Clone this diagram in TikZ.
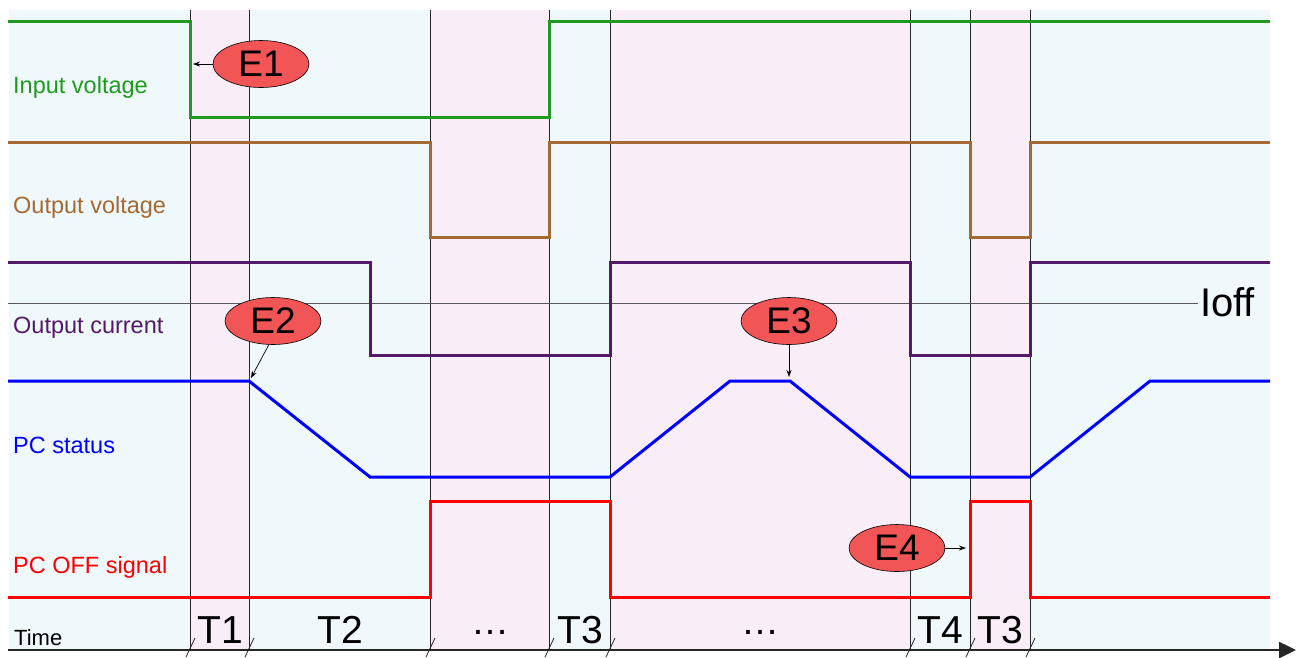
\documentclass[tikz,border=0pt]{standalone}
\usepackage{fontspec}
\setmainfont{Liberation Sans}
\usetikzlibrary{shapes.geometric,arrows.meta}
\definecolor{bgc}{RGB}{239,248,250}
\definecolor{bgp}{RGB}{249,237,247}
\definecolor{cgreen}{RGB}{30,155,30}
\definecolor{cbrown}{RGB}{165,105,50}
\definecolor{cpurple}{RGB}{85,25,105}
\definecolor{cblue}{RGB}{0,0,255}
\definecolor{cred}{RGB}{255,0,0}
\definecolor{evfill}{RGB}{242,85,85}
\begin{document}
\begin{tikzpicture}[x=1pt,y=-1pt,
  sig/.style={line width=3pt, line join=miter},
  vline/.style={line width=0.8pt, black!85},
  ev/.style={ellipse, draw=black, line width=0.6pt, fill=evfill, minimum width=96pt, minimum height=47pt, inner sep=0pt, font=\fontsize{37}{40}\selectfont},
  lbl/.style={anchor=base west, inner sep=0pt, font=\fontsize{23.5}{26}\selectfont},
  tlab/.style={anchor=base, font=\fontsize{39}{42}\selectfont},
  ptr/.style={-{Stealth[length=7pt,width=5pt]}, line width=0.7pt}]
\useasboundingbox (0,0) rectangle (1297,657);
% background
\fill[bgc] (9,10) rectangle (1270,650);
\foreach \a/\b in {190/249,430/549,610/910,970/1030}
  \fill[bgp] (\a,10) rectangle (\b,650);
% vertical lines and slashes
\foreach \x in {190,249,430,549,610,910,970,1030}{
  \draw[vline] (\x,10) -- (\x,650);
  \draw[line width=0.8pt, black!85] (\x-4,657) -- (\x+5,638);
}
% Ioff line
\draw[line width=1pt, black!65] (8,303) -- (1198,303);
\node[anchor=base west, font=\fontsize{40}{42}\selectfont, inner sep=0pt] (ioff) at (1200,316) {Ioff};
% time axis
\draw[line width=2.5pt, black!85, -{Triangle[length=17pt,width=16pt]}] (8,650) -- (1296,650);
% signals
\draw[sig, cgreen] (8,21) -- (190,21) -- (190,117) -- (549,117) -- (549,21) -- (1270,21);
\draw[sig, cbrown] (8,142) -- (430,142) -- (430,237) -- (549,237) -- (549,142) -- (970,142) -- (970,237) -- (1030,237) -- (1030,142) -- (1270,142);
\draw[sig, cpurple] (8,262) -- (370,262) -- (370,355) -- (610,355) -- (610,262) -- (910,262) -- (910,355) -- (1030,355) -- (1030,262) -- (1270,262);
\draw[sig, cblue] (8,381) -- (249,381) -- (370,477) -- (610,477) -- (730,381) -- (790,381) -- (910,477) -- (1030,477) -- (1150,381) -- (1270,381);
\draw[sig, cred] (8,597) -- (430,597) -- (430,501) -- (610,501) -- (610,597) -- (970,597) -- (970,501) -- (1030,501) -- (1030,597) -- (1270,597);
% labels
\node[lbl, text=cgreen] (l1) at (13,93) {Input voltage};
\node[lbl, text=cbrown] (l2) at (13,213) {Output voltage};
\node[lbl, text=cpurple] (l3) at (13,333) {Output current};
\node[lbl, text=cblue] (l4) at (13,453) {PC status};
\node[lbl, text=cred] (l5) at (13,573) {PC OFF signal};
\node[lbl, text=black, font=\fontsize{22}{24}\selectfont] (l6) at (14,645) {Time};
% time labels
\node[tlab] (t1) at (220,643) {T1};
\node[tlab] (t2) at (340,643) {T2};
\node[anchor=center, font=\fontsize{38}{40}\selectfont] (d1) at (490,632) {…};
\node[tlab] (t3a) at (580,643) {T3};
\node[anchor=center, font=\fontsize{38}{40}\selectfont] (d2) at (760,632) {…};
\node[tlab] (t4) at (940,643) {T4};
\node[tlab] (t3b) at (1000,643) {T3};
% events
\node[ev] (E1) at (261,64) {E1};
\node[ev] (E2) at (273,321) {E2};
\node[ev] (E3) at (789,321) {E3};
\node[ev] (E4) at (897,548) {E4};
\coordinate (a1) at (193,64);
\coordinate (a2) at (251,378);
\coordinate (a3) at (789,377);
\coordinate (a4) at (966,548);
\draw[ptr] (E1.west) -- (a1);
\draw[ptr] (E2.-100) -- (a2);
\draw[ptr] (E3.south) -- (a3);
\draw[ptr] (E4.east) -- (a4);
\end{tikzpicture}
\end{document}
